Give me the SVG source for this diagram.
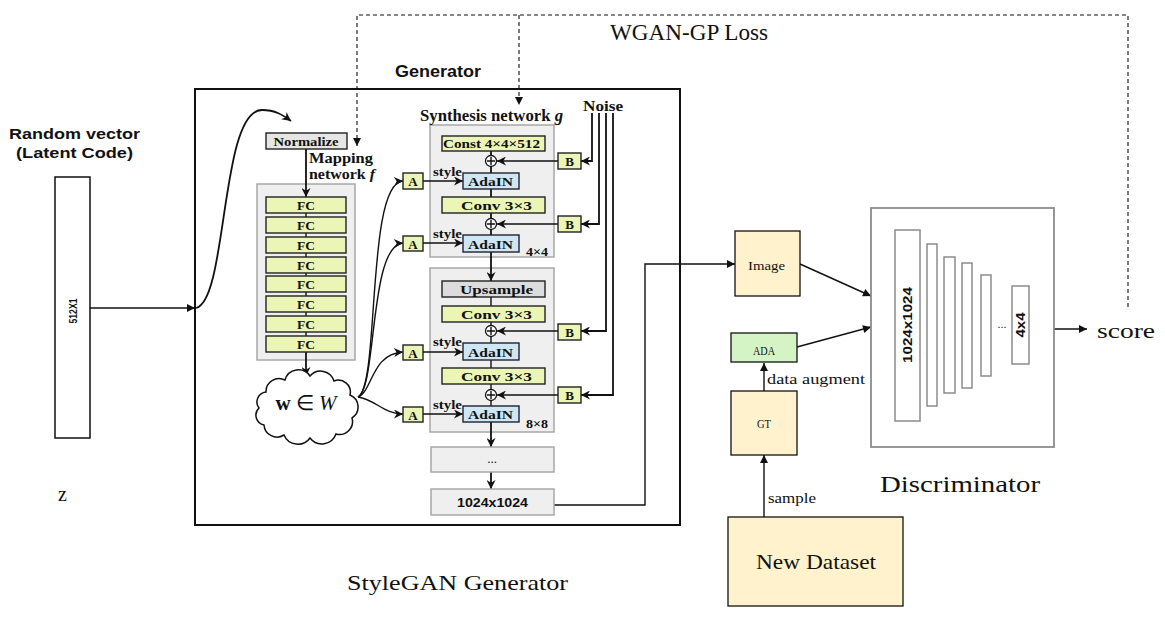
<svg xmlns="http://www.w3.org/2000/svg" width="1165" height="630" viewBox="0 0 1165 630">
<defs>
<style>
.t-sans{font-family:"Liberation Sans",Arial,sans-serif;font-weight:bold;fill:#111}
.t-serif{font-family:"Liberation Serif","Times New Roman",serif;font-weight:bold;fill:#111}
.t-reg{font-family:"Liberation Serif","Times New Roman",serif;font-weight:normal;fill:#111}
.t-mono{font-family:"Liberation Serif","Times New Roman",serif;fill:#111}
.panel{fill:#efefef;stroke:#a8a8a8;stroke-width:1.5}
.fc{fill:#ebf5b6;stroke:#222;stroke-width:1.4}
.gray{fill:#dcdcdc;stroke:#222;stroke-width:1.4}
.ada{fill:#cfe6f4;stroke:#223;stroke-width:1.4}
.cream{fill:#fff2cc;stroke:#111;stroke-width:1.3}
.green{fill:#d5f4c6;stroke:#111;stroke-width:1.3}
.dbox{fill:#fff;stroke:#8c8c8c;stroke-width:1.8}
.layer{fill:#fff;stroke:#8c8c8c;stroke-width:1.5}
.ln{fill:none;stroke:#111;stroke-width:1.4}
.lnb{fill:none;stroke:#111;stroke-width:1.8}
.dash{fill:none;stroke:#111;stroke-width:1.1;stroke-dasharray:4 3}
.sum{fill:#fff;stroke:#111;stroke-width:1.3}
</style>
<marker id="ah" viewBox="0 0 10 10" refX="10" refY="5" markerWidth="9" markerHeight="8" markerUnits="userSpaceOnUse" orient="auto"><path d="M0,0 L10,5 L0,10 z" fill="#111"/></marker>
<marker id="ahb" viewBox="0 0 10 10" refX="10" refY="5" markerWidth="10" markerHeight="9" markerUnits="userSpaceOnUse" orient="auto"><path d="M0,0 L10,5 L0,10 L3,5 z" fill="#111"/></marker>
</defs>
<rect width="1165" height="630" fill="#fff"/>

<g id="titles">
<text class="t-sans" x="9" y="139" font-size="14" textLength="131" lengthAdjust="spacingAndGlyphs">Random vector</text>
<text class="t-sans" x="16" y="158" font-size="14" textLength="117" lengthAdjust="spacingAndGlyphs">(Latent Code)</text>
<text class="t-sans" x="395" y="77" font-size="16" textLength="86" lengthAdjust="spacingAndGlyphs">Generator</text>
<text class="t-mono" x="610" y="40" font-size="23" textLength="158" lengthAdjust="spacingAndGlyphs">WGAN-GP Loss</text>
<text class="t-mono" x="347" y="590" font-size="22" textLength="221" lengthAdjust="spacingAndGlyphs">StyleGAN Generator</text>
<text class="t-mono" x="880" y="492" font-size="23" textLength="160" lengthAdjust="spacingAndGlyphs">Discriminator</text>
<text class="t-mono" x="58" y="501" font-size="20">z</text>
</g>

<g id="generator">
<rect x="195" y="89" width="485" height="436" fill="#fff" stroke="#111" stroke-width="2"/>
<rect class="panel" x="257" y="184" width="98" height="176"/>
<rect class="panel" x="430" y="125" width="124" height="132"/>
<rect class="panel" x="430" y="268" width="124" height="164"/>
</g>

<g id="latent">
<rect x="55" y="177" width="35" height="261" fill="#fff" stroke="#111" stroke-width="1.5"/>
<text class="t-sans" font-size="11" text-anchor="middle" transform="translate(77,311) rotate(-90)" textLength="25" lengthAdjust="spacingAndGlyphs">512X1</text>
</g>

<g id="connectors">
<path class="ln" d="M90,308 H195" marker-end="url(#ah)"/>
<path class="lnb" d="M196,308 C228,300 220,110 262,110 C275,110 283,115 291,121" marker-end="url(#ahb)"/>
<path class="lnb" d="M306,149 V197" marker-end="url(#ahb)"/>
<path class="ln" d="M306,213 V336"/>
<path class="lnb" d="M306,352 V376" marker-end="url(#ahb)"/>
<path class="ln" d="M358,397 C380,385 366,183 403,181" marker-end="url(#ahb)"/>
<path class="ln" d="M358,397 C377,388 369,245 403,243" marker-end="url(#ahb)"/>
<path class="ln" d="M358,397 C373,391 371,354 403,352" marker-end="url(#ahb)"/>
<path class="ln" d="M358,397 C376,400 384,414 403,414" marker-end="url(#ahb)"/>
<path class="ln" d="M423,181 H463" marker-end="url(#ahb)"/>
<path class="ln" d="M423,243 H463" marker-end="url(#ahb)"/>
<path class="ln" d="M423,352 H463" marker-end="url(#ahb)"/>
<path class="ln" d="M423,414 H463" marker-end="url(#ahb)"/>
<path class="lnb" d="M491,151 V281" marker-end="url(#ahb)"/>
<path class="ln" d="M491,297 V406"/>
<path class="lnb" d="M491,422 V447" marker-end="url(#ahb)"/>
<path class="lnb" d="M491,472 V489" marker-end="url(#ahb)"/>
<path class="lnb" d="M592,113 V161 H581" marker-end="url(#ahb)"/>
<path class="lnb" d="M599,113 V224 H581" marker-end="url(#ahb)"/>
<path class="lnb" d="M606,113 V331 H581" marker-end="url(#ahb)"/>
<path class="lnb" d="M613,113 V395 H581" marker-end="url(#ahb)"/>
<path class="ln" d="M558,161 H497" marker-end="url(#ahb)"/>
<path class="ln" d="M558,224 H497" marker-end="url(#ahb)"/>
<path class="ln" d="M558,331 H497" marker-end="url(#ahb)"/>
<path class="ln" d="M558,395 H497" marker-end="url(#ahb)"/>
<path class="ln" d="M554,505 H645 V264 H735" marker-end="url(#ah)"/>
<path class="ln" d="M800,264 L871,296" marker-end="url(#ah)"/>
<path class="ln" d="M797,347 L871,327" marker-end="url(#ah)"/>
<path class="ln" d="M764,391 V363" marker-end="url(#ah)"/>
<path class="ln" d="M764,517 V455" marker-end="url(#ah)"/>
<path class="ln" d="M1054,329 H1087" marker-end="url(#ah)"/>
<path class="dash" d="M1128,307 V15 H357 V146" marker-end="url(#ah)"/>
<path class="dash" d="M519,15 V105" marker-end="url(#ah)"/>
</g>

<g id="mapping">
<rect class="gray" x="266" y="133" width="81" height="16" style="fill:#e6e6e6"/>
<text class="t-serif" x="306" y="145.5" font-size="12.5" text-anchor="middle" textLength="65" lengthAdjust="spacingAndGlyphs">Normalize</text>
<text class="t-reg" x="309" y="163" font-size="15" textLength="64" lengthAdjust="spacingAndGlyphs" style="font-weight:600">Mapping</text>
<text class="t-reg" x="309" y="179" font-size="15" textLength="66" lengthAdjust="spacingAndGlyphs" style="font-weight:600">network <tspan font-style="italic">f</tspan></text>
<g>
<rect class="fc" x="266" y="197" width="80" height="16"/>
<rect class="fc" x="266" y="217" width="80" height="16"/>
<rect class="fc" x="266" y="237" width="80" height="16"/>
<rect class="fc" x="266" y="257" width="80" height="16"/>
<rect class="fc" x="266" y="276" width="80" height="16"/>
<rect class="fc" x="266" y="296" width="80" height="16"/>
<rect class="fc" x="266" y="316" width="80" height="16"/>
<rect class="fc" x="266" y="336" width="80" height="16"/>
</g>
<g class="t-serif" font-size="13.5" text-anchor="middle">
<text x="306" y="210">FC</text><text x="306" y="230">FC</text><text x="306" y="250">FC</text><text x="306" y="270">FC</text>
<text x="306" y="289">FC</text><text x="306" y="309">FC</text><text x="306" y="329">FC</text><text x="306" y="349">FC</text>
</g>
</g>

<g id="w-cloud">
<path fill="#fff" stroke="#111" stroke-width="1.5" d="M266,392 A13,13 0 0 1 285,380 A14,14 0 0 1 310,376 A14,14 0 0 1 334,381 A12,12 0 0 1 350,395 A13,13 0 0 1 352,418 A13,13 0 0 1 336,434 A15,15 0 0 1 310,438 A15,15 0 0 1 284,435 A13,13 0 0 1 264,425 A10,10 0 0 1 259,408 A10,10 0 0 1 266,392 Z"/>
<text class="t-serif" x="306" y="410" font-size="21" text-anchor="middle">w <tspan style="font-weight:normal">∈</tspan> <tspan style="font-weight:normal;font-style:italic">W</tspan></text>
</g>

<g id="synthesis">
<text class="t-reg" x="420" y="121" font-size="16" textLength="143" lengthAdjust="spacingAndGlyphs" style="font-weight:600">Synthesis network <tspan font-style="italic">g</tspan></text>
<text class="t-serif" x="583" y="111" font-size="15" textLength="40" lengthAdjust="spacingAndGlyphs">Noise</text>
<rect class="fc" x="442" y="136" width="103" height="15"/>
<text class="t-serif" x="443" y="148" font-size="12.5" textLength="97" lengthAdjust="spacingAndGlyphs">Const 4×4×512</text>
<rect class="ada" x="463" y="173" width="56" height="16"/>
<text class="t-serif" x="468" y="186" font-size="13.5" textLength="45" lengthAdjust="spacingAndGlyphs">AdaIN</text>
<rect class="fc" x="442" y="197" width="103" height="16"/>
<text class="t-serif" x="461" y="210" font-size="13.5" textLength="71" lengthAdjust="spacingAndGlyphs">Conv 3×3</text>
<rect class="ada" x="463" y="235" width="56" height="17"/>
<text class="t-serif" x="468" y="249" font-size="13.5" textLength="45" lengthAdjust="spacingAndGlyphs">AdaIN</text>
<text class="t-serif" x="526" y="256" font-size="12.5" textLength="22" lengthAdjust="spacingAndGlyphs">4×4</text>
<rect class="gray" x="442" y="281" width="103" height="16"/>
<text class="t-serif" x="460" y="294" font-size="13.5" textLength="73" lengthAdjust="spacingAndGlyphs">Upsample</text>
<rect class="fc" x="442" y="306" width="103" height="16"/>
<text class="t-serif" x="461" y="319" font-size="13.5" textLength="71" lengthAdjust="spacingAndGlyphs">Conv 3×3</text>
<rect class="ada" x="463" y="343" width="56" height="17"/>
<text class="t-serif" x="468" y="357" font-size="13.5" textLength="45" lengthAdjust="spacingAndGlyphs">AdaIN</text>
<rect class="fc" x="442" y="368" width="103" height="16"/>
<text class="t-serif" x="461" y="381" font-size="13.5" textLength="71" lengthAdjust="spacingAndGlyphs">Conv 3×3</text>
<rect class="ada" x="463" y="406" width="56" height="16"/>
<text class="t-serif" x="468" y="419" font-size="13.5" textLength="45" lengthAdjust="spacingAndGlyphs">AdaIN</text>
<text class="t-serif" x="526" y="428" font-size="12.5" textLength="22" lengthAdjust="spacingAndGlyphs">8×8</text>
<g class="t-serif" font-size="13"><text x="433" y="176" textLength="29" lengthAdjust="spacingAndGlyphs">style</text><text x="433" y="238" textLength="29" lengthAdjust="spacingAndGlyphs">style</text><text x="433" y="346" textLength="29" lengthAdjust="spacingAndGlyphs">style</text><text x="433" y="409" textLength="29" lengthAdjust="spacingAndGlyphs">style</text></g>
<g>
<circle class="sum" cx="491" cy="161" r="5.5"/><path class="ln" stroke-width="1" d="M487,161 H495 M491,157 V165"/>
<circle class="sum" cx="491" cy="224" r="5.5"/><path class="ln" stroke-width="1" d="M487,224 H495 M491,220 V228"/>
<circle class="sum" cx="491" cy="331" r="5.5"/><path class="ln" stroke-width="1" d="M487,331 H495 M491,327 V335"/>
<circle class="sum" cx="491" cy="395" r="5.5"/><path class="ln" stroke-width="1" d="M487,395 H495 M491,391 V399"/>
</g>
<rect x="431" y="447" width="123" height="25" fill="#efefef" stroke="#a8a8a8" stroke-width="1.5"/>
<text class="t-reg" x="492" y="463" font-size="13" text-anchor="middle">...</text>
<rect x="431" y="489" width="123" height="26" fill="#efefef" stroke="#a8a8a8" stroke-width="1.5"/>
<text class="t-sans" x="457" y="507" font-size="12" textLength="71" lengthAdjust="spacingAndGlyphs">1024x1024</text>
</g>

<g id="A-blocks">
<rect class="fc" x="403" y="173" width="20" height="16"/><text class="t-serif" x="413" y="186" font-size="13" text-anchor="middle">A</text>
<rect class="fc" x="403" y="236" width="20" height="15"/><text class="t-serif" x="413" y="248.5" font-size="13" text-anchor="middle">A</text>
<rect class="fc" x="403" y="345" width="20" height="15"/><text class="t-serif" x="413" y="357.5" font-size="13" text-anchor="middle">A</text>
<rect class="fc" x="403" y="407" width="20" height="15"/><text class="t-serif" x="413" y="419.5" font-size="13" text-anchor="middle">A</text>
</g>
<g id="B-blocks">
<rect class="fc" x="558" y="153" width="23" height="16"/><text class="t-serif" x="569.5" y="166" font-size="13" text-anchor="middle">B</text>
<rect class="fc" x="558" y="216" width="23" height="16"/><text class="t-serif" x="569.5" y="229" font-size="13" text-anchor="middle">B</text>
<rect class="fc" x="558" y="324" width="23" height="16"/><text class="t-serif" x="569.5" y="337" font-size="13" text-anchor="middle">B</text>
<rect class="fc" x="558" y="387" width="23" height="16"/><text class="t-serif" x="569.5" y="400" font-size="13" text-anchor="middle">B</text>
</g>

<g id="image">
<rect class="cream" x="735" y="231" width="65" height="65"/>
<text class="t-mono" x="748" y="270" font-size="13" textLength="37" lengthAdjust="spacingAndGlyphs">Image</text>
</g>
<g id="ada">
<rect class="green" x="731" y="333" width="66" height="29"/>
<text class="t-mono" x="753" y="355" font-size="13" textLength="22" lengthAdjust="spacingAndGlyphs">ADA</text>
</g>
<text class="t-mono" x="767" y="384" font-size="15" textLength="98" lengthAdjust="spacingAndGlyphs">data augment</text>
<g id="gt">
<rect class="cream" x="731" y="391" width="66" height="64"/>
<text class="t-mono" x="757" y="428" font-size="13" textLength="14" lengthAdjust="spacingAndGlyphs">GT</text>
</g>
<text class="t-mono" x="768" y="503" font-size="15" textLength="48" lengthAdjust="spacingAndGlyphs">sample</text>
<g id="new-dataset">
<rect class="cream" x="728" y="517" width="175" height="89"/>
<text class="t-mono" x="756" y="569" font-size="22" textLength="120" lengthAdjust="spacingAndGlyphs">New Dataset</text>
</g>

<g id="discriminator">
<rect class="dbox" x="871" y="208" width="183" height="239"/>
<rect class="layer" x="895" y="230" width="25" height="191"/>
<text class="t-sans" font-size="13" text-anchor="middle" transform="translate(912,325) rotate(-90)" textLength="76" lengthAdjust="spacingAndGlyphs">1024x1024</text>
<rect class="layer" x="927" y="244" width="10" height="162"/>
<rect class="layer" x="944" y="257" width="11" height="136"/>
<rect class="layer" x="962" y="263" width="10" height="125"/>
<rect class="layer" x="981" y="275" width="10" height="101"/>
<text class="t-sans" x="1002" y="328" font-size="11" style="font-weight:normal" text-anchor="middle">...</text>
<rect class="layer" x="1012" y="286" width="17" height="78"/>
<text class="t-sans" font-size="12" text-anchor="middle" transform="translate(1025,325) rotate(-90)" textLength="25" lengthAdjust="spacingAndGlyphs">4x4</text>
</g>
<text class="t-mono" x="1097" y="338" font-size="22" textLength="58" lengthAdjust="spacingAndGlyphs">score</text>
</svg>
